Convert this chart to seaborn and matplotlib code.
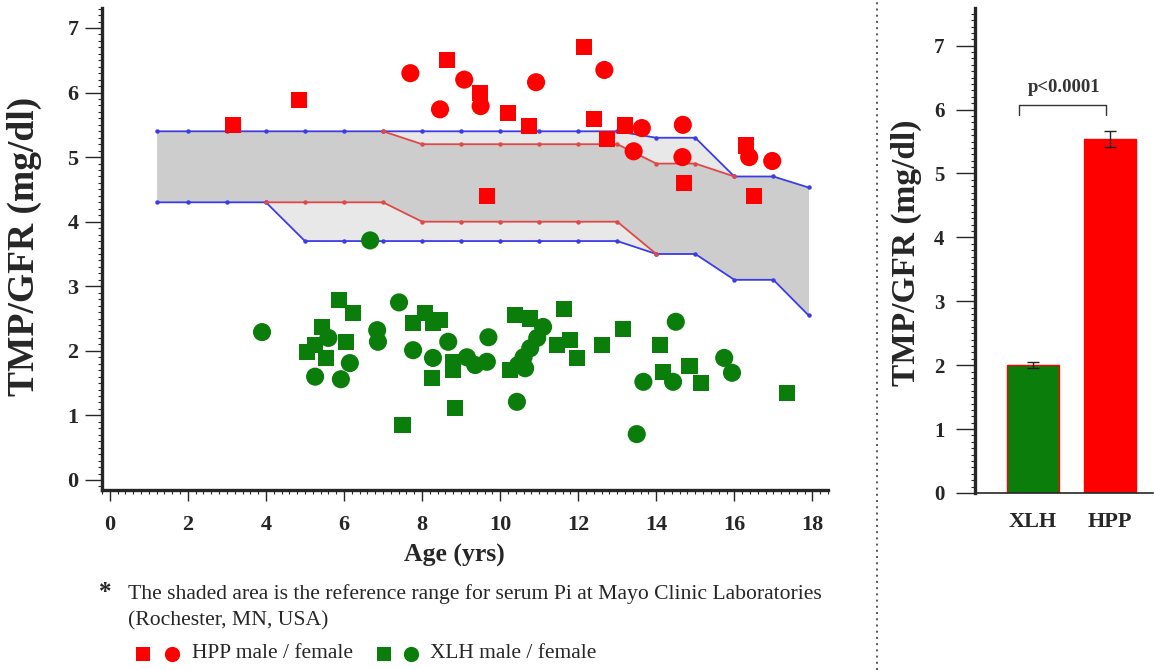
import numpy as np
import pandas as pd
import matplotlib
matplotlib.use("Agg")
import matplotlib.pyplot as plt
from matplotlib.lines import Line2D
from matplotlib.ticker import MultipleLocator
import seaborn as sns

# ---------------- data ----------------
# HPP patients
hpp_male_age = [3.15, 4.85, 8.64, 9.49, 10.2, 10.74, 9.66, 12.15, 12.41, 12.74, 13.2, 14.7, 16.3, 16.5]
hpp_male_val = [5.50, 5.88, 6.50, 5.99, 5.68, 5.48, 4.40, 6.70, 5.59, 5.28, 5.49, 4.60, 5.18, 4.40]
hpp_female_age = [7.7, 8.46, 9.08, 9.5, 10.92, 12.67, 13.63, 13.42, 14.68, 14.67, 16.38, 16.97]
hpp_female_val = [6.30, 5.74, 6.20, 5.79, 6.16, 6.35, 5.45, 5.09, 5.50, 5.00, 5.00, 4.94]

# XLH patients
xlh_male_age = [5.87, 6.23, 5.43, 5.05, 5.26, 5.54, 6.05, 7.5, 8.08, 7.77, 8.28, 8.26, 8.45,
                8.8, 8.8, 8.85, 10.38, 10.77, 10.26, 11.64, 11.46, 11.8, 11.97, 12.6,
                13.15, 14.1, 14.18, 14.85, 15.15, 17.36]
xlh_male_val = [2.79, 2.58, 2.37, 1.98, 2.09, 1.89, 2.14, 0.85, 2.58, 2.43, 2.43, 1.58, 2.48,
                1.70, 1.83, 1.11, 2.55, 2.50, 1.70, 2.65, 2.09, 2.17, 1.89, 2.09,
                2.34, 2.09, 1.67, 1.76, 1.50, 1.35]
xlh_female_age = [3.9, 7.41, 5.6, 6.15, 5.26, 5.92, 6.85, 6.87, 6.67, 7.77, 8.28, 8.67,
                  9.7, 9.15, 9.36, 9.66, 11.1, 10.95, 10.77, 10.6, 10.46, 10.64, 10.43,
                  14.5, 13.67, 14.43, 15.74, 15.94, 13.5]
xlh_female_val = [2.29, 2.75, 2.20, 1.81, 1.60, 1.56, 2.32, 2.14, 3.71, 2.01, 1.89, 2.14,
                  2.21, 1.90, 1.78, 1.83, 2.37, 2.20, 2.04, 1.90, 1.78, 1.73, 1.21,
                  2.45, 1.52, 1.52, 1.89, 1.66, 0.71]

# reference range (serum Pi, by age)
ref_age = [1.2, 2, 3, 4, 5, 6, 7, 8, 9, 10, 11, 12, 13, 14, 15, 16, 17, 17.9]
ref_outer_hi = [5.4, 5.4, 5.4, 5.4, 5.4, 5.4, 5.4, 5.4, 5.4, 5.4, 5.4, 5.4, 5.4, 5.3, 5.3, 4.7, 4.7, 4.53]
ref_outer_lo = [4.3, 4.3, 4.3, 4.3, 3.7, 3.7, 3.7, 3.7, 3.7, 3.7, 3.7, 3.7, 3.7, 3.5, 3.5, 3.1, 3.1, 2.55]
ref_inner_hi_age = [7, 8, 9, 10, 11, 12, 13, 14, 15, 16]
ref_inner_hi = [5.4, 5.2, 5.2, 5.2, 5.2, 5.2, 5.2, 4.9, 4.9, 4.7]
ref_inner_lo_age = [4, 5, 6, 7, 8, 9, 10, 11, 12, 13, 14]
ref_inner_lo = [4.3, 4.3, 4.3, 4.3, 4.0, 4.0, 4.0, 4.0, 4.0, 4.0, 3.5]

# group means
groups = ["XLH", "HPP"]
group_mean = [2.0, 5.54]
group_sem = [0.05, 0.12]
p_label = "p<0.0001"

# ---------------- style ----------------
sns.set_style("ticks")
plt.rcParams["font.family"] = ["Liberation Serif", "DejaVu Serif"]

RED = "#ff0000"
GREEN = "#0a7d0a"
BLUE = "#3c3ce6"
LINE_RED = "#e04848"

fig = plt.figure(figsize=(11.55, 6.7), dpi=100)

# ---------------- left panel: scatter vs age ----------------
ax = fig.add_axes([0.0883, 0.2687, 0.6286, 0.7194])

age = np.array(ref_age, dtype=float)
o_hi = np.array(ref_outer_hi)
o_lo = np.array(ref_outer_lo)
in_hi = np.where((age >= ref_inner_hi_age[0]) & (age <= ref_inner_hi_age[-1]),
                 np.interp(age, ref_inner_hi_age, ref_inner_hi), o_hi)
in_lo = np.where((age >= ref_inner_lo_age[0]) & (age <= ref_inner_lo_age[-1]),
                 np.interp(age, ref_inner_lo_age, ref_inner_lo), o_lo)
in_hi = np.minimum(in_hi, o_hi)
in_lo = np.maximum(in_lo, o_lo)

ax.fill_between(age, o_lo, o_hi, color="#e8e8e8", lw=0, zorder=1)
ax.fill_between(age, in_lo, in_hi, color="#cdcdcd", lw=0, zorder=1.1)

for xs, ys, c in [(ref_age, ref_outer_hi, BLUE), (ref_age, ref_outer_lo, BLUE),
                  (ref_inner_hi_age, ref_inner_hi, LINE_RED),
                  (ref_inner_lo_age, ref_inner_lo, LINE_RED)]:
    ax.plot(xs, ys, color=c, lw=1.3, marker="o", ms=2.2, mec=c, mfc=c, zorder=2)

pts = pd.DataFrame({
    "age": hpp_male_age + hpp_female_age + xlh_male_age + xlh_female_age,
    "val": hpp_male_val + hpp_female_val + xlh_male_val + xlh_female_val,
    "group": (["HPP"] * len(hpp_male_age) + ["HPP"] * len(hpp_female_age)
              + ["XLH"] * len(xlh_male_age) + ["XLH"] * len(xlh_female_age)),
    "sex": (["male"] * len(hpp_male_age) + ["female"] * len(hpp_female_age)
            + ["male"] * len(xlh_male_age) + ["female"] * len(xlh_female_age)),
})
pal = {"HPP": RED, "XLH": GREEN}
sns.scatterplot(data=pts[pts.sex == "male"], x="age", y="val", hue="group", palette=pal,
                marker="s", s=135, linewidth=0, legend=False, ax=ax, zorder=3)
sns.scatterplot(data=pts[pts.sex == "female"], x="age", y="val", hue="group", palette=pal,
                marker="o", s=170, linewidth=0, legend=False, ax=ax, zorder=3)

ax.set_xlim(-0.2, 18.4)
ax.set_ylim(-0.155, 7.31)
ax.xaxis.set_major_locator(MultipleLocator(2))
ax.xaxis.set_minor_locator(MultipleLocator(0.2))
ax.yaxis.set_major_locator(MultipleLocator(1))
ax.yaxis.set_minor_locator(MultipleLocator(0.1))
for s in ["top", "right"]:
    ax.spines[s].set_visible(False)
for s in ["left", "bottom"]:
    ax.spines[s].set_linewidth(2.4)
ax.tick_params(axis="y", which="major", length=12, width=1, pad=5, labelsize=16)
ax.tick_params(axis="x", which="major", length=8, width=1, pad=10, labelsize=16)
ax.tick_params(which="minor", length=3, width=0.8)
for lab in ax.get_xticklabels() + ax.get_yticklabels():
    lab.set_fontweight("bold")
ax.set_xlabel("Age (yrs)", fontsize=18.5, fontweight="bold")
ax.xaxis.set_label_coords(0.486, -0.112)
ax.set_ylabel("TMP/GFR (mg/dl)", fontsize=27, fontweight="bold")
ax.yaxis.set_label_coords(-0.083, 0.506)

# ---------------- right panel: group means ----------------
ax2 = fig.add_axes([0.8442, 0.2642, 0.1541, 0.7239])
sns.barplot(x=groups, y=group_mean, hue=groups, palette=[GREEN, RED], width=0.68,
            saturation=1, edgecolor=RED, linewidth=1, legend=False, ax=ax2, zorder=2)
ax2.errorbar(range(len(groups)), group_mean, yerr=group_sem, fmt="none",
             ecolor="#222222", elinewidth=1, capsize=4, capthick=1, zorder=3)
ax2.set_xlim(-0.753, 1.558)
ax2.set_ylim(0, 7.59)
ax2.yaxis.set_major_locator(MultipleLocator(1))
ax2.yaxis.set_minor_locator(MultipleLocator(0.1))
for s in ["top", "right"]:
    ax2.spines[s].set_visible(False)
ax2.spines["left"].set_linewidth(2.4)
ax2.spines["bottom"].set_linewidth(1.2)
ax2.tick_params(axis="y", which="major", length=14, width=1, pad=8, labelsize=15)
ax2.tick_params(axis="y", which="minor", length=3, width=0.8)
ax2.tick_params(axis="x", length=0, pad=14, labelsize=16)
for lab in ax2.get_xticklabels() + ax2.get_yticklabels():
    lab.set_fontweight("bold")
ax2.set_xlabel("")
ax2.set_ylabel("TMP/GFR (mg/dl)", fontsize=24, fontweight="bold")
ax2.yaxis.set_label_coords(-0.30, 0.495)

# significance bracket
ax2.plot([-0.18, -0.18, 0.95, 0.95], [5.92, 6.07, 6.07, 5.92], color="#333333", lw=1)
ax2.text(0.4, 6.22, p_label, ha="center", va="bottom", fontsize=13.5, fontweight="bold",
         color="#333333")

# ---------------- separator and notes ----------------
fig.add_artist(Line2D([877 / 1155, 877 / 1155], [0, 1], transform=fig.transFigure,
                      color="#555555", lw=1.4, linestyle=(0, (1, 2.2))))

fig.text(105 / 1155, 1 - 592 / 670, "*", fontsize=18, fontweight="bold", va="center", ha="center")
fig.text(128 / 1155, 1 - 594 / 670,
         "The shaded area is the reference range for serum Pi at Mayo Clinic Laboratories",
         fontsize=15.6, va="center", ha="left")
fig.text(128 / 1155, 1 - 621 / 670, "(Rochester, MN, USA)", fontsize=15.6, va="center", ha="left")

ly = 1 - 654 / 670
for xpix, mk, col, ms in [(143, "s", RED, 10), (172, "o", RED, 11),
                          (384, "s", GREEN, 10), (411, "o", GREEN, 11)]:
    fig.add_artist(Line2D([xpix / 1155], [ly], marker=mk, color=col, ms=ms, mew=0,
                          linestyle="none", transform=fig.transFigure))
fig.text(192 / 1155, ly, "HPP male / female", fontsize=15.4, va="center", ha="left")
fig.text(430 / 1155, ly, "XLH male / female", fontsize=15.4, va="center", ha="left")

fig.savefig("out.png", dpi=100)
